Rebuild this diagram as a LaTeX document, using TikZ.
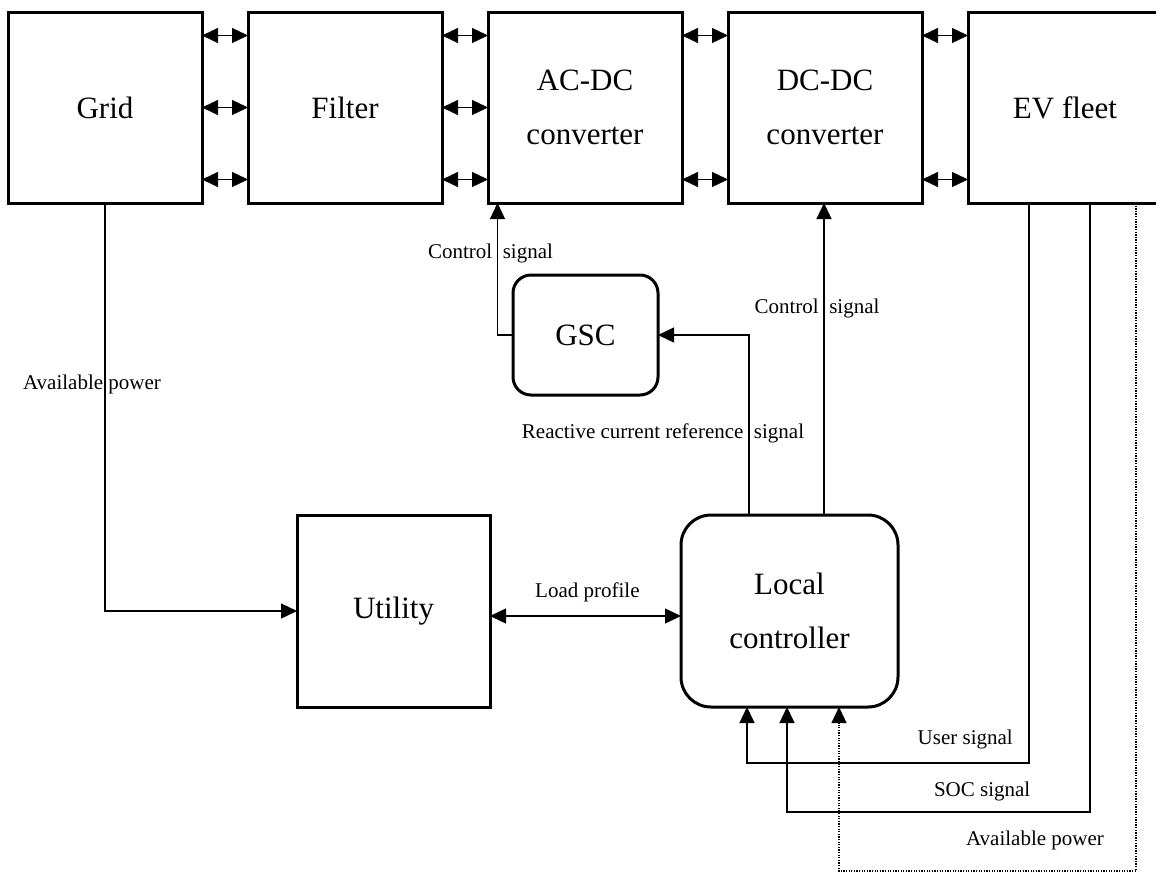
\documentclass[tikz,border=0pt]{standalone}
\usepackage{fontspec}
\setmainfont{Liberation Serif}
\usetikzlibrary{arrows.meta,positioning}
\tikzset{
    block/.style={rectangle, draw, minimum width=194pt, minimum height=191pt, align=center, inner sep=0pt, outer sep=0pt, font=\fontsize{31}{54}\selectfont, line width=3pt},
    ctrl/.style={block, rounded corners=18pt},
    line/.style={draw, -{Triangle[length=16pt,width=15pt]}, line width=1.3pt},
    dline/.style={draw, {Triangle[length=16pt,width=15pt]}-{Triangle[length=16pt,width=15pt]}, line width=1.3pt},
    lbl/.style={font=\fontsize{21}{25}\selectfont, inner sep=0pt}
}
\begin{document}
\begin{tikzpicture}[x=1pt, y=-1pt, node distance=46pt]
    \useasboundingbox (0,0) rectangle (1156,873);
    \node [block] (grid) at (105,107.5) {Grid};
    \node [block, right=of grid] (filter) {Filter};
    \node [block, right=of filter] (acdc) {AC-DC\\converter};
    \node [block, right=of acdc] (dcdc) {DC-DC\\converter};
    \node [block, right=of dcdc] (ev) {EV fleet};
    \node [ctrl, minimum width=145pt, minimum height=120pt] (gsc) at (585.5,335) {GSC};
    \node [block, minimum width=193pt, minimum height=192pt] (utility) at (393.5,611) {Utility};
    \node [ctrl, rounded corners=30pt, minimum width=217pt, minimum height=192pt] (lc) at (789.5,611) {Local\\controller};

    \foreach \a/\b in {grid/filter, filter/acdc}
        \foreach \s in {72,0,-72}
            \path [dline] ([yshift=\s pt]\a.east) -- ([yshift=\s pt]\b.west);
    \foreach \a/\b in {acdc/dcdc, dcdc/ev}
        \foreach \s in {72,-72}
            \path [dline] ([yshift=\s pt]\a.east) -- ([yshift=\s pt]\b.west);

    \path [line] (grid.south) |- node [lbl, pos=0.222, xshift=-13pt] {Available power} (utility.west);
    \path [line] (gsc.west) -| node [lbl, pos=0.807, xshift=-7pt] {Control\ \ signal} ([xshift=-87.5pt]acdc.south);
    \path [line] ([xshift=-40.5pt]lc.north) |- node [lbl, pos=0.228, xshift=-86pt] {Reactive current reference\ \ signal} (gsc.east);
    \path [line] ([xshift=34.5pt]lc.north) -- node [lbl, pos=0.663, xshift=-7pt] {Control\ \ signal} ([xshift=34.5pt]lc.north |- dcdc.south);
    \path [dline] ([yshift=-5pt]utility.east) -- node [lbl, pos=0.51, above=13.4pt] {Load profile} ([yshift=-5pt]lc.west);
    \path [line] ([xshift=-36pt]ev.south) -- ++(0,560) -| node [lbl, pos=0.113, above=13.4pt] {User signal} ([xshift=-42.5pt]lc.south);
    \path [line] ([xshift=25pt]ev.south) -- ++(0,609) -| node [lbl, pos=0.178, above=10.4pt] {SOC signal} ([xshift=-2.5pt]lc.south);
    \path [line, dash pattern=on 1.3pt off 1.3pt] ([xshift=71pt]ev.south) -- ++(0,668) -| node [lbl, pos=0.17, above=20.4pt] {Available power} ([xshift=49.5pt]lc.south);
\end{tikzpicture}
\end{document}
